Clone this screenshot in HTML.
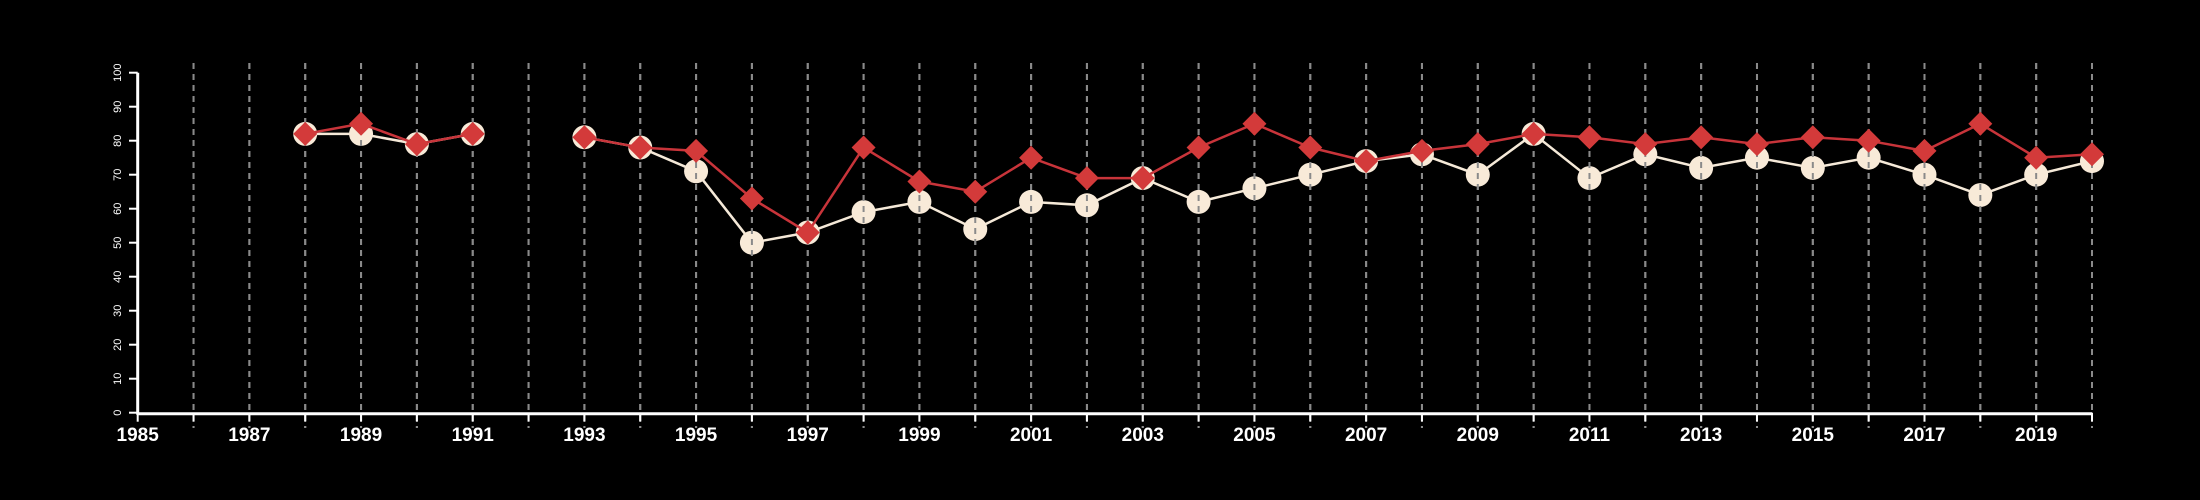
<!DOCTYPE html>
<html><head><meta charset="utf-8"><style>
html,body{margin:0;padding:0;background:#000;}
svg{display:block;}
</style></head><body>
<svg id="chart" width="2200" height="500" xmlns="http://www.w3.org/2000/svg" style="background:#000;font-family:'Liberation Sans',sans-serif;">
<g id="grid"></g>
<g id="lines1"></g>
<g id="grid2"></g>
<g id="lines2"></g>
<g id="axes"></g>
</svg>
<script>
const years = [1988,1989,1990,1991,1992,1993,1994,1995,1996,1997,1998,1999,2000,2001,2002,2003,2004,2005,2006,2007,2008,2009,2010,2011,2012,2013,2014,2015,2016,2017,2018,2019,2020];
const whiteValues = [82,82,79,82,null,81,78,71,50,53,59,62,54,62,61,69,62,66,70,74,76,70,82,69,76,72,75,72,75,70,64,70,74];
const redValues = [82,85,79,82,null,81,78,77,63,53,78,68,65,75,69,69,78,85,78,74,77,79,82,81,79,81,79,81,80,77,85,75,76];
const yTicks = [0,10,20,30,40,50,60,70,80,90,100];
const xLabels = [1985,1987,1989,1991,1993,1995,1997,1999,2001,2003,2005,2007,2009,2011,2013,2015,2017,2019];
const xMin = 1985, xMax = 2020;

const NS = "http://www.w3.org/2000/svg";
const X = v => 137.7 + (v - xMin) * (2092 - 137.7) / (xMax - xMin);
const Y = v => 412.7 - v * 3.4;
function mk(tag, attrs, parent){const e=document.createElementNS(NS,tag);for(const k in attrs)e.setAttribute(k,attrs[k]);parent.appendChild(e);return e;}

const grid=document.getElementById('grid'), grid2=document.getElementById('grid2');
for(let yr=xMin+1; yr<=xMax; yr++){
  for(const g of [grid,grid2]){
    const l=mk('line',{x1:X(yr),x2:X(yr),y1:63,y2:428,stroke:'#8a8a8a','stroke-width':2,'stroke-dasharray':'6,5'},g);
    
    
  }
}

function segments(vals){const segs=[];let cur=[];vals.forEach((v,i)=>{if(v==null){if(cur.length)segs.push(cur);cur=[];}else cur.push([X(years[i]),Y(v)]);});if(cur.length)segs.push(cur);return segs;}

const l1=document.getElementById('lines1');
segments(whiteValues).forEach(s=>{
  const p=mk('polyline',{points:s.map(p=>p.join(',')).join(' '),fill:'none',stroke:'#f5e9d8','stroke-width':2.5},l1);
  
  
});
whiteValues.forEach((v,i)=>{if(v==null)return;
  const c=mk('circle',{cx:X(years[i]),cy:Y(v),r:12,fill:'#f8ead8'},l1);
  
  
});

const l2=document.getElementById('lines2');
segments(redValues).forEach(s=>{
  const p=mk('polyline',{points:s.map(p=>p.join(',')).join(' '),fill:'none',stroke:'#c8343a','stroke-width':2.5},l2);
  
  
});
redValues.forEach((v,i)=>{if(v==null)return;
  const x=X(years[i]), y=Y(v), r=12;
  const d=mk('polygon',{points:`${x},${y-r} ${x+r},${y} ${x},${y+r} ${x-r},${y}`,fill:'#d33a3a'},l2);
  
  
});

const ax=document.getElementById('axes');
let e=mk('line',{x1:X(xMin),x2:X(xMax),y1:Y(0)+1,y2:Y(0)+1,stroke:'#fff','stroke-width':3},ax);


e=mk('line',{x1:137.7,x2:137.7,y1:Y(100),y2:Y(0)+2,stroke:'#fff','stroke-width':3},ax);


for(let yr=xMin; yr<=xMax; yr++){
  const t=mk('line',{x1:X(yr),x2:X(yr),y1:Y(0),y2:Y(0)+9,stroke:'#fff','stroke-width':2},ax);
  
  
}
xLabels.forEach(yr=>{
  const t=mk('text',{x:X(yr),y:441,fill:'#fff','font-size':19,'font-weight':'bold','text-anchor':'middle'},ax);
  t.textContent=yr;
  
  
});
yTicks.forEach(v=>{
  const t=mk('line',{x1:129,x2:137.7,y1:Y(v),y2:Y(v),stroke:'#fff','stroke-width':2},ax);
  
  
  const lb=mk('text',{x:0,y:0,fill:'#fff','font-size':11,'text-anchor':'middle',transform:`translate(121,${Y(v)}) rotate(-90)`},ax);
  lb.textContent=v;
  
  
});
</script>
</body></html>
